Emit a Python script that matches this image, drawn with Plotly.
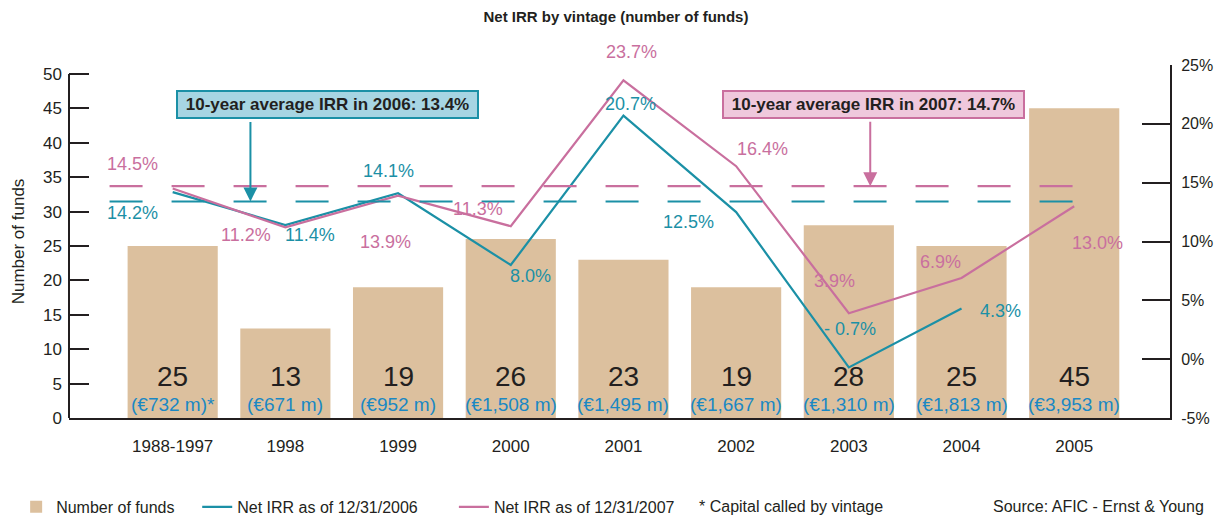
import plotly.graph_objects as go

# ---------------- data ----------------
categories = ["1988-1997", "1998", "1999", "2000", "2001", "2002", "2003", "2004", "2005"]
funds = [25, 13, 19, 26, 23, 19, 28, 25, 45]
capital = ["(€732 m)*", "(€671 m)", "(€952 m)", "(€1,508 m)", "(€1,495 m)",
           "(€1,667 m)", "(€1,310 m)", "(€1,813 m)", "(€3,953 m)"]
irr_2006 = [14.2, 11.4, 14.1, 8.0, 20.7, 12.5, -0.7, 4.3, None]
irr_2007 = [14.5, 11.2, 13.9, 11.3, 23.7, 16.4, 3.9, 6.9, 13.0]
irr_2006_text = ["14.2%", "11.4%", "14.1%", "8.0%", "20.7%", "12.5%", "- 0.7%", "4.3%", None]
irr_2007_text = ["14.5%", "11.2%", "13.9%", "11.3%", "23.7%", "16.4%", "3.9%", "6.9%", "13.0%"]
avg_2006 = 13.4
avg_2007 = 14.7
left_ticks = [0, 5, 10, 15, 20, 25, 30, 35, 40, 45, 50]
right_ticks = [-5, 0, 5, 10, 15, 20, 25]

# ---------------- style ----------------
FONT = "Liberation Sans, Arial, sans-serif"
DARK = "#231f20"
TEAL = "#1b90a6"
PINK = "#c96f9e"
BAR = "#dcc09e"
CAP_BLUE = "#1a88c4"

# label pixel offsets (dx, dy) relative to each point
off_2006 = [(-40, -21), (25, -10), (-10, 22), (20, -11), (7, 12), (-48, -10), (1, 38), (39, -2), None]
off_2007 = [(-40, 25), (-39, -8), (-13, -46), (-33, 17), (8, 28), (26, 17), (-14, 32), (-21, 16), (23, -37)]

NB = "\u00a0"
fig = go.Figure()
fig.add_trace(go.Bar(x=categories, y=funds, name="Number of funds" + NB * 4,
                     marker=dict(color=BAR, line=dict(width=0)), width=0.8))
fig.add_trace(go.Scatter(x=categories, y=irr_2006, yaxis="y2", mode="lines",
                         name="Net IRR as of 12/31/2006" + NB * 7,
                         line=dict(color=TEAL, width=2.2)))
fig.add_trace(go.Scatter(x=categories, y=irr_2007, yaxis="y2", mode="lines",
                         name="Net IRR as of 12/31/2007",
                         line=dict(color=PINK, width=2.2)))

annotations = []
# bar labels (x given as category index)
for i, (n, cap) in enumerate(zip(funds, capital)):
    annotations.append(dict(x=i, y=6.1, xref="x", yref="y", text=str(n), showarrow=False,
                            font=dict(family=FONT, size=28, color=DARK)))
    annotations.append(dict(x=i, y=2.0, xref="x", yref="y", text=cap, showarrow=False,
                            font=dict(family=FONT, size=19, color=CAP_BLUE)))
# IRR labels
for vals, texts, offs, col in [(irr_2006, irr_2006_text, off_2006, TEAL),
                               (irr_2007, irr_2007_text, off_2007, PINK)]:
    for i, (v, t, o) in enumerate(zip(vals, texts, offs)):
        if v is None:
            continue
        annotations.append(dict(x=i, y=v, xref="x", yref="y2", text=t, showarrow=False,
                                xshift=o[0], yshift=o[1],
                                font=dict(family=FONT, size=18, color=col)))
# average boxes
annotations.append(dict(x=0.2348, y=0.8867, xref="paper", yref="paper",
                        xanchor="center", yanchor="middle",
                        text=NB + "<b>10-year average IRR in 2006: 13.4%</b>" + NB,
                        showarrow=False, bgcolor="#a7d5e3", bordercolor=TEAL,
                        borderwidth=2, borderpad=3,
                        font=dict(family=FONT, size=17, color=DARK)))
annotations.append(dict(x=0.7307, y=0.8867, xref="paper", yref="paper",
                        xanchor="center", yanchor="middle",
                        text=NB + "<b>10-year average IRR in 2007: 14.7%</b>" + NB,
                        showarrow=False, bgcolor="#efc8dc", bordercolor=PINK,
                        borderwidth=2, borderpad=3,
                        font=dict(family=FONT, size=17, color=DARK)))
# arrows
annotations.append(dict(x=0.69, y=avg_2006, xref="x", yref="y2", text="", showarrow=True,
                        ax=0, ay=-81, arrowhead=2, arrowsize=1.4, arrowwidth=2,
                        arrowcolor=TEAL))
annotations.append(dict(x=6.19, y=avg_2007, xref="x", yref="y2", text="", showarrow=True,
                        ax=0, ay=-66, arrowhead=2, arrowsize=1.4, arrowwidth=2,
                        arrowcolor=PINK))
# footer texts
annotations.append(dict(x=0.5704, y=-0.252, xref="paper", yref="paper", xanchor="left",
                        yanchor="middle", text="* Capital called by vintage", showarrow=False,
                        font=dict(family=FONT, size=16, color=DARK)))
annotations.append(dict(x=0.8374, y=-0.252, xref="paper", yref="paper", xanchor="left",
                        yanchor="middle", text="Source: AFIC - Ernst & Young", showarrow=False,
                        font=dict(family=FONT, size=16, color=DARK)))

shapes = [
    dict(type="line", xref="x", yref="y2", x0=-0.56, x1=8.14, y0=avg_2007, y1=avg_2007,
         line=dict(color=PINK, width=2.2, dash="33px,29px")),
    dict(type="line", xref="x", yref="y2", x0=-0.56, x1=8.14, y0=avg_2006, y1=avg_2006,
         line=dict(color=TEAL, width=2.2, dash="33px,29px")),
    dict(type="line", xref="paper", yref="y", x0=0, x1=0, y0=0, y1=50,
         line=dict(color=DARK, width=2)),
]

# the page body has an 8px margin, so the figure is sized/positioned to compensate
fig.update_layout(
    width=1214, height=509,
    margin=dict(l=61, r=52, t=57, b=99, autoexpand=False),
    paper_bgcolor="white", plot_bgcolor="white",
    font=dict(family=FONT, size=16, color=DARK),
    title=dict(text="<b>Net IRR by vintage (number of funds)</b>", x=0.5008, y=0.9823,
               xref="container", yref="container", xanchor="center", yanchor="middle",
               font=dict(family=FONT, size=15, color=DARK)),
    xaxis=dict(type="category", range=[-0.92, 8.85], showline=True, linewidth=2,
               linecolor=DARK, ticks="", showgrid=False, zeroline=False,
               tickfont=dict(family=FONT, size=17, color=DARK), ticklabelstandoff=12),
    yaxis=dict(range=[0, 51.3], tickvals=left_ticks, ticks="inside", ticklen=20,
               tickwidth=2, tickcolor=DARK, showline=False, showgrid=False,
               zeroline=False, tickfont=dict(family=FONT, size=17, color=DARK),
               ticklabelstandoff=6, automargin=False,
               title=dict(text="Number of funds", standoff=14,
                          font=dict(family=FONT, size=17, color=DARK))),
    yaxis2=dict(overlaying="y", side="right", range=[-5, 25], tickvals=right_ticks,
                ticktext=[f"{v}%" for v in right_ticks], ticks="inside", ticklen=28,
                tickwidth=2, tickcolor=DARK, showline=True, linewidth=2, linecolor=DARK,
                showgrid=False, zeroline=False, automargin=False,
                tickfont=dict(family=FONT, size=16, color=DARK), ticklabelstandoff=6),
    legend=dict(orientation="h", x=-0.048, xanchor="left", y=-0.252, yanchor="middle",
                font=dict(family=FONT, size=16, color=DARK), bgcolor="rgba(0,0,0,0)"),
    barmode="overlay",
    annotations=annotations,
    shapes=shapes,
    showlegend=True,
)

fig.write_html("out.html")
